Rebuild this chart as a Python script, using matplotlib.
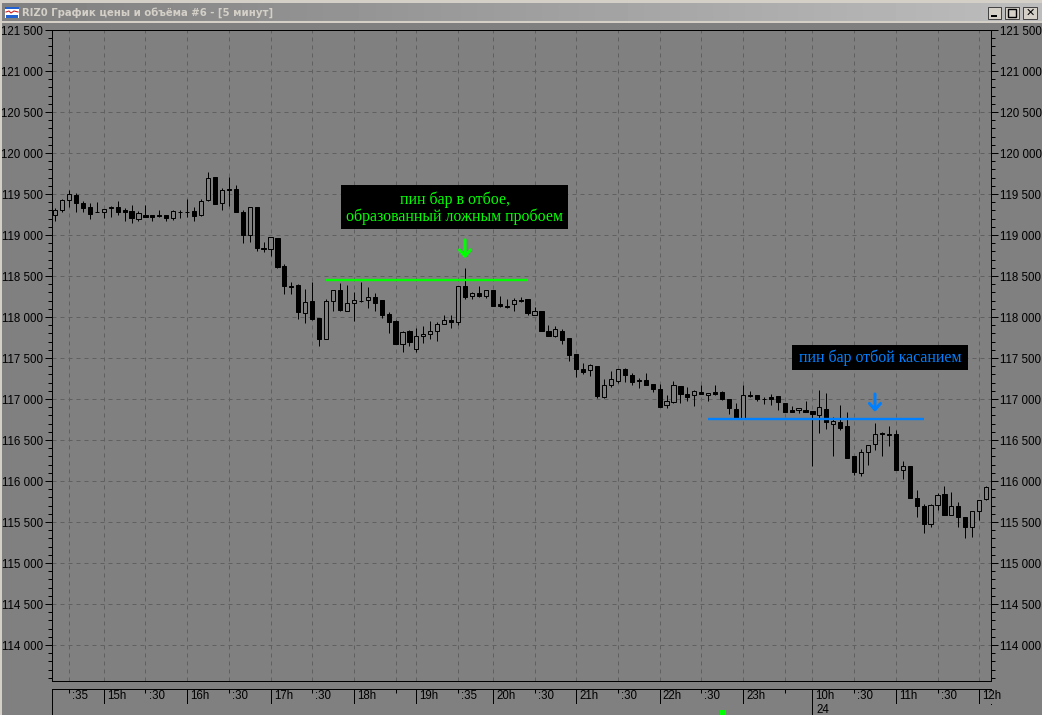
import numpy as np
import matplotlib
matplotlib.use("Agg")
import matplotlib.pyplot as plt
from matplotlib.patches import Rectangle
from matplotlib.ticker import MultipleLocator, FuncFormatter

ohlc = """119250 119330 119175 119300
119300 119435 119275 119425
119425 119545 119345 119495
119485 119510 119285 119385
119385 119415 119285 119335
119340 119385 119195 119260
119280 119400 119275 119275
119275 119320 119210 119320
119335 119350 119225 119340
119340 119415 119250 119275
119300 119335 119165 119285
119290 119365 119150 119205
119190 119295 119175 119265
119250 119365 119215 119225
119250 119250 119175 119225
119240 119310 119225 119230
119250 119250 119165 119210
119205 119300 119185 119290
119280 119300 119210 119275
119280 119445 119225 119275
119290 119340 119175 119235
119240 119435 119235 119410
119425 119765 119415 119690
119705 119705 119380 119380
119385 119570 119310 119545
119555 119705 119355 119545
119555 119605 119275 119285
119275 119300 118905 119005
119005 119340 118920 119340
119340 119340 118810 118840
118840 118920 118790 118825
118825 118970 118750 118970
118960 118960 118600 118615
118620 118645 118285 118375
118375 118430 118275 118370
118385 118400 117980 118055
118045 118340 117930 118180
118190 118425 117960 117970
117985 117985 117650 117730
117730 118215 117730 118190
118190 118335 118075 118335
118335 118410 118075 118085
118075 118390 118075 118165
118165 118300 117950 118205
118200 118425 118180 118195
118205 118365 118110 118250
118250 118290 118075 118175
118205 118205 117985 118030
118035 118055 117810 117945
117950 117965 117665 117675
117675 117830 117575 117815
117830 117840 117650 117700
117615 117860 117575 117765
117765 117885 117685 117790
117790 117950 117730 117835
117835 117935 117705 117910
117910 118025 117910 117960
117960 118025 117870 117935
117945 118380 117900 118375
118375 118600 118220 118250
118260 118310 118220 118290
118290 118380 118250 118255
118260 118335 118235 118335
118335 118335 118140 118140
118155 118255 118120 118140
118140 118215 118115 118125
118155 118230 118075 118205
118205 118245 118185 118190
118215 118215 118025 118050
118030 118120 118020 118070
118070 118070 117830 117835
117835 117900 117770 117770
117770 117885 117755 117850
117835 117850 117675 117725
117740 117740 117465 117540
117545 117545 117270 117370
117360 117435 117300 117335
117350 117425 117285 117410
117400 117400 117015 117040
117030 117245 117015 117165
117175 117340 117150 117240
117225 117360 117190 117360
117360 117375 117210 117290
117290 117315 117165 117210
117230 117255 117140 117225
117230 117320 117175 117175
117180 117180 117080 117120
117120 117185 116905 116905
116925 117050 116890 116970
116960 117225 116950 117165
117155 117155 116955 117055
117055 117145 116970 117020
117045 117110 116920 117095
117080 117165 117055 117055
117050 117070 116975 117070
117080 117165 117050 117065
117080 117100 116985 116995
116995 116995 116820 116885
116875 116950 116765 116765
116765 117165 116765 117045
117045 117100 117020 117040
117045 117045 116970 116995
117000 117020 116935 116995
117020 117055 116925 117000
117035 117035 116860 116960
116950 116950 116845 116845
116860 116915 116845 116845
116860 116885 116835 116885
116860 116975 116845 116845
116850 116850 116185 116815
116810 117110 116590 116900
116875 117070 116640 116715
116700 116775 116310 116730
116715 116925 116620 116645
116665 116840 116275 116285
116300 116300 116075 116105
116095 116395 116065 116350
116350 116445 116200 116445
116455 116705 116380 116570
116585 116595 116310 116570
116570 116665 116430 116565
116570 116620 116140 116140
116130 116250 116030 116180
116180 116180 115790 115795
115790 115885 115565 115700
115690 115715 115360 115470
115470 115715 115445 115705
115705 115850 115645 115825
115840 115945 115580 115580
115580 115860 115580 115690
115690 115750 115445 115565
115555 115555 115310 115435
115435 115630 115320 115630
115630 115765 115525 115765
115775 115945 115765 115925"""
rows = np.array([[float(v) for v in r.split()] for r in ohlc.splitlines()])
opens, highs, lows, closes = rows.T

time_idx = [2, 7, 13, 19, 25, 31, 37, 43, 49, 52, 58, 63, 69, 75, 81, 87, 93, 99, 105, 109, 115, 121, 127, 133]
time_labels = [":35", "15h", ":30", "16h", ":30", "17h", ":30", "18h", "", "19h", ":35", "20h",
               ":30", "21h", ":30", "22h", ":30", "23h", "", "10h", ":30", "11h", ":30", "12h"]
day_idx = 109
day_label = "24"

green_level = 118455
green_span = (39, 68)
blue_level = 116756
blue_span = (94, 125)
green_arrow = (59, 118940, 118715)
blue_arrow = (118, 117061, 116842)

title = "RIZ0 График цены и объёма #6 - [5 минут]"
note_green = ["пин бар в отбое,", "образованный ложным пробоем"]
note_blue = "пин бар отбой касанием"

W, H = 1042, 715
BG = "#808080"
GRID = "#606060"
PX = 0.72
plt.rcParams["font.family"] = ["Liberation Sans", "DejaVu Sans"]
plt.rcParams["text.antialiased"] = True
fig = plt.figure(figsize=(W / 100, H / 100), dpi=100, facecolor=BG)


def box(x0, y0, x1, y1):
    return [x0 / W, 1 - y1 / H, (x1 - x0) / W, (y1 - y0) / H]


def rect(x0, y0, x1, y1, **kw):
    kw.setdefault("linewidth", 0)
    r = Rectangle((x0 / W, 1 - y1 / H), (x1 - x0) / W, (y1 - y0) / H,
                  transform=fig.transFigure, **kw)
    fig.add_artist(r)
    return r


def ftext(x, y, s, **kw):
    return fig.text(x / W, 1 - y / H, s, **kw)


L, R, T, B = 51.5, 991.5, 30.0, 681.0
XMIN, XMAX = -0.52, 134.77
PER_PX = 500 / 41.0

ax = fig.add_axes(box(L, T, R, B), facecolor=BG)
ax.set_xlim(XMIN, XMAX)
ax.set_ylim(121500 - (B - T) * PER_PX, 121500)
for s in ax.spines.values():
    s.set_color("black")
    s.set_linewidth(PX)

ax.yaxis.set_major_locator(MultipleLocator(500))
ax.yaxis.set_minor_locator(MultipleLocator(100))
ax.yaxis.set_major_formatter(FuncFormatter(lambda v, _: f"{int(v):,}".replace(",", " ")))
ax.tick_params(axis="y", which="major", length=5.2, width=PX, labelsize=8.3, pad=0.8,
               left=True, right=True, labelleft=True, labelright=True, color="black")
ax.tick_params(axis="y", which="minor", length=3, width=PX, left=True, right=True, color="black")
ax.set_xticks([])

dash = (0, (4.0, 4.0))
for v in np.arange(114000, 121501, 500):
    ax.axhline(v, color=GRID, lw=PX, ls=dash, zorder=1)
for i in time_idx:
    ax.axvline(i, color=GRID, lw=PX, ls=dash, zorder=1)

xs = np.arange(len(opens))
ax.vlines(xs, lows, highs, color="black", lw=PX, zorder=3)
up = closes >= opens
tops = np.maximum(opens, closes)
bots = np.minimum(opens, closes)
ax.bar(xs, tops - bots, bottom=bots, width=0.6,
       color=[BG if u else "black" for u in up], edgecolor="black", linewidth=PX, zorder=4)

ax.hlines(green_level, *green_span, color="#00ff00", lw=1.7, zorder=5)
ax.hlines(blue_level, *blue_span, color="#0080ff", lw=1.7, zorder=5)
for (xa, y0, y1), c in ((green_arrow, "#00ff00"), (blue_arrow, "#0080ff")):
    ax.annotate("", xy=(xa, y1), xytext=(xa, y0),
                arrowprops=dict(arrowstyle="->,head_length=0.45,head_width=0.4", lw=2.2, color=c,
                                shrinkA=0, shrinkB=0, mutation_scale=10), zorder=6)

# time strip
tx = fig.add_axes(box(L, 689, R, 703.5), facecolor=BG)
tx.set_xlim(XMIN, XMAX)
tx.set_ylim(1, 0)
tx.set_xticks([])
tx.set_yticks([])
for k, s in tx.spines.items():
    s.set_color("black")
    s.set_linewidth(PX)
tx.spines["right"].set_visible(False)
for i, lab in zip(time_idx, time_labels):
    if lab.endswith("h"):
        tx.axvline(i, color="black", lw=PX)
    else:
        tx.vlines(i, 0, 0.3, color="black", lw=PX)
    tx.annotate(lab, (i, 0.5), xytext=(3.2, 0), textcoords="offset pixels", fontsize=8.3,
                va="center", ha="left", annotation_clip=False)

# day strip
dx = fig.add_axes(box(L, 703.5, R, 715), facecolor=BG)
dx.set_xlim(XMIN, XMAX)
dx.set_ylim(1, 0)
dx.set_xticks([])
dx.set_yticks([])
for k, s in dx.spines.items():
    s.set_visible(k == "left")
    s.set_color("black")
    s.set_linewidth(PX)
dx.axvline(day_idx, color="black", lw=PX)
dx.annotate(day_label, (day_idx, 0.55), xytext=(4, 0), textcoords="offset pixels", fontsize=8.3,
            va="center", ha="left")
rect(720, 710, 725.5, 715, facecolor="#00ff00", zorder=5)

# note boxes
rect(341, 185, 568, 229, facecolor="black", zorder=7)
ftext(455, 199.5, note_green[0], color="#00ff00", family="Liberation Serif", fontsize=11.4,
      ha="center", va="center", zorder=8)
ftext(455, 217, note_green[1], color="#00ff00", family="Liberation Serif", fontsize=11.4,
      ha="center", va="center", zorder=8)
rect(792, 345, 968, 370, facecolor="black", zorder=7)
ftext(880, 357.5, note_blue, color="#0080ff", family="Liberation Serif", fontsize=11.4,
      ha="center", va="center", zorder=8)

# window chrome
rect(0, 0, 2, H, facecolor="#d4d0c8", zorder=9)
rect(0, 0, W, 3, facecolor="#d4d0c8", zorder=9)
bar_ax = fig.add_axes(box(2, 3, W, 21), zorder=9)
bar_ax.imshow(np.linspace(0.5, 0.74, 256)[None, :], cmap="gray", vmin=0, vmax=1, aspect="auto")
bar_ax.axis("off")
rect(0, 21, W, 22.5, facecolor="#d4d0c8", zorder=10)
ftext(21.5, 12.5, title, color="#d4d0c8", family="DejaVu Sans", fontsize=7.3, fontweight="bold",
      ha="left", va="center", zorder=11)

# window icon
rect(5, 7, 19, 18, facecolor="white", zorder=11)
rect(5, 7, 19, 9, facecolor="#2060d0", zorder=12)
fig.add_artist(plt.Line2D(np.array([6, 9, 11, 14, 18]) / W, 1 - np.array([12, 11, 13, 11, 12]) / H,
                          color="#d02020", lw=0.8, zorder=12))
rect(6, 15, 18, 18, facecolor="#2060d0", zorder=12)

# window buttons
for x0, x1 in ((988, 1001), (1005, 1019), (1023, 1037)):
    rect(x0, 7, x1, 19, facecolor="#d4d0c8", edgecolor="#404040", linewidth=0.7, zorder=11)
rect(991, 15, 997, 17, facecolor="black", zorder=12)
rect(1008, 9.5, 1016, 16.5, facecolor="none", edgecolor="black", linewidth=1.0, zorder=12)
ftext(1030, 13, "✕", color="black", family="DejaVu Sans", fontsize=8, fontweight="bold",
      ha="center", va="center", zorder=12)

fig.savefig("out.png", dpi=100, facecolor=BG)
